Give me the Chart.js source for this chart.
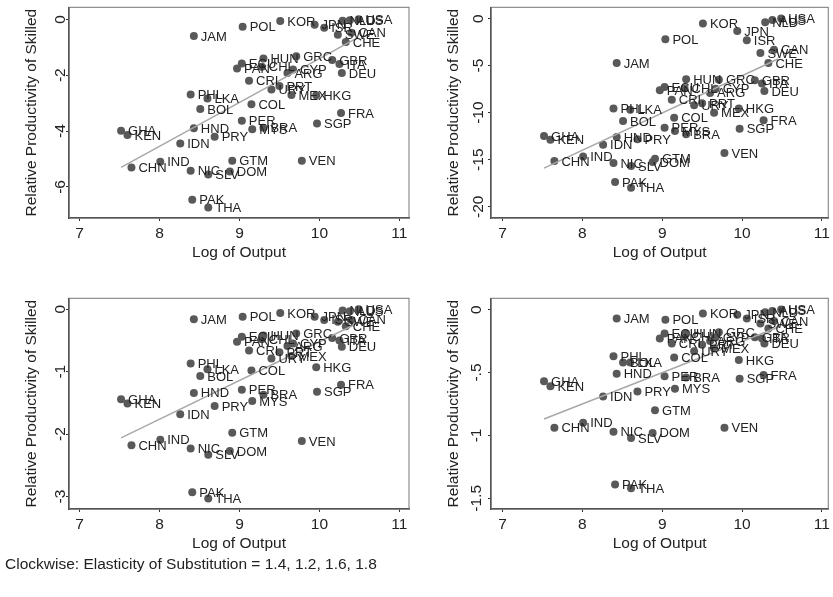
<!DOCTYPE html>
<html>
<head>
<meta charset="utf-8">
<script src="https://cdn.jsdelivr.net/npm/chart.js@4.4.0/dist/chart.umd.min.js"></script>
<style>
  body { margin: 0; background: #fff; width: 833px; height: 597px; position: relative; overflow: hidden; }
  canvas { position: absolute; }
  #note { position: absolute; left: 5px; top: 555px; font: 15.5px "Liberation Sans", Arial, sans-serif; color: #222; }
</style>
</head>
<body>
<canvas id="p14" width="416" height="270" style="left:0;top:0"></canvas>
<canvas id="p12" width="417" height="270" style="left:416px;top:0"></canvas>
<canvas id="p18" width="416" height="270" style="left:0;top:291px"></canvas>
<canvas id="p16" width="417" height="270" style="left:416px;top:291px"></canvas>
<div id="note">Clockwise: Elasticity of Substitution = 1.4, 1.2, 1.6, 1.8</div>
<script>
const countries = ["USA","AUS","NLD","JPN","ISR","CAN","SWE","CHE","KOR","POL","JAM","HUN","GRC","GBR","ITA","DEU","ECU","PAN","CHL","CYP","ARG","CRI","PRT","URY","MEX","HKG","FRA","SGP","COL","PHL","LKA","BOL","PER","MYS","BRA","HND","GHA","KEN","PRY","IDN","CHN","IND","NIC","SLV","DOM","GTM","VEN","PAK","THA"];
const logOutput = [10.49,10.38,10.29,9.94,10.06,10.4,10.23,10.33,9.51,9.04,8.43,9.3,9.71,10.16,10.25,10.28,9.03,8.97,9.28,9.67,9.6,9.12,9.5,9.4,9.65,9.96,10.27,9.97,9.15,8.39,8.6,8.51,9.03,9.16,9.3,8.43,7.52,7.6,8.69,8.26,7.65,8.01,8.39,8.61,8.88,8.91,9.78,8.41,8.61];

// relative productivity of skilled, one array per elasticity
const prod14 = [0,-0.03,-0.05,-0.19,-0.3,-0.48,-0.55,-0.81,-0.06,-0.27,-0.6,-1.4,-1.32,-1.46,-1.6,-1.92,-1.58,-1.76,-1.7,-1.8,-1.92,-2.2,-2.39,-2.51,-2.71,-2.72,-3.35,-3.73,-3.04,-2.69,-2.83,-3.21,-3.63,-3.93,-3.88,-3.9,-3.99,-4.14,-4.2,-4.44,-5.3,-5.1,-5.42,-5.55,-5.45,-5.06,-5.06,-6.46,-6.73];
const prod12 = [0,-0.15,-0.4,-1.32,-2.31,-3.3,-3.66,-4.72,-0.53,-2.2,-4.72,-6.46,-6.5,-6.56,-6.9,-7.7,-7.28,-7.63,-7.4,-7.45,-7.9,-8.62,-9.0,-9.2,-10.0,-9.57,-10.8,-11.7,-10.53,-9.57,-9.7,-10.9,-11.6,-11.95,-12.3,-12.6,-12.49,-12.87,-12.84,-13.4,-15.15,-14.65,-15.36,-15.68,-15.25,-14.9,-14.3,-17.38,-17.98];
const prod18 = [0,-0.03,-0.02,-0.12,-0.17,-0.17,-0.2,-0.27,-0.06,-0.12,-0.16,-0.42,-0.39,-0.46,-0.5,-0.6,-0.44,-0.52,-0.48,-0.55,-0.59,-0.66,-0.69,-0.79,-0.75,-0.93,-1.21,-1.32,-0.98,-0.87,-0.96,-1.07,-1.29,-1.47,-1.37,-1.34,-1.44,-1.51,-1.55,-1.68,-2.18,-2.09,-2.23,-2.33,-2.27,-1.98,-2.11,-2.93,-3.03];
const prod16 = [0,-0.01,-0.02,-0.04,-0.07,-0.09,-0.11,-0.15,-0.03,-0.08,-0.07,-0.19,-0.18,-0.22,-0.23,-0.27,-0.19,-0.23,-0.21,-0.22,-0.25,-0.27,-0.28,-0.33,-0.31,-0.4,-0.52,-0.55,-0.38,-0.37,-0.42,-0.42,-0.53,-0.63,-0.54,-0.51,-0.57,-0.61,-0.65,-0.69,-0.94,-0.9,-0.97,-1.02,-0.98,-0.8,-0.94,-1.39,-1.42];

// fitted line end points
const fitX = [7.52, 10.45];
const fit14 = [-5.3, -0.7];
const fit12 = [-15.9, -4.3];
const fit18 = [-2.06, -0.24];
const fit16 = [-0.87, -0.14];

const xTicks = [7, 8, 9, 10, 11];
const yTicks14 = [0, -2, -4, -6];
const yTicks12 = [0, -5, -10, -15, -20];
const yTicks18 = [0, -1, -2, -3];
const yTicks16 = [0, -0.5, -1, -1.5];

const FONT = "'Liberation Sans', Arial, sans-serif";

const boxPlugin = {
  id: "box",
  beforeDatasetsDraw(chart) {
    const a = chart.chartArea, ctx = chart.ctx;
    ctx.save();
    ctx.strokeStyle = "#777";
    ctx.lineWidth = 1;
    ctx.strokeRect(a.left, a.top, a.right - a.left, a.bottom - a.top);
    ctx.restore();
  }
};

const labelPlugin = {
  id: "pointLabels",
  afterDatasetsDraw(chart) {
    const ctx = chart.ctx;
    const pts = chart.getDatasetMeta(1).data;
    ctx.save();
    ctx.font = "13px " + FONT;
    ctx.fillStyle = "#222";
    ctx.textBaseline = "middle";
    ctx.textAlign = "left";
    pts.forEach((p, i) => ctx.fillText(countries[i], p.x + 7, p.y + 1));
    ctx.restore();
  }
};

function fmt(v) {
  if (v === 0) return "0";
  return String(v).replace("0.", ".");
}

function makePanel(id, yVals, fitY, yTicks, yMin, yMax, xMin, xMax, yWidth, titlePad, rightPad) {
  const ctx = document.getElementById(id).getContext("2d");
  return new Chart(ctx, {
    type: "scatter",
    data: {
      datasets: [
        {
          type: "line",
          data: fitX.map((x, i) => ({ x: x, y: fitY[i] })),
          borderColor: "#a8a8a8",
          borderWidth: 1.5,
          pointRadius: 0,
          fill: false
        },
        {
          data: logOutput.map((x, i) => ({ x: x, y: yVals[i] })),
          backgroundColor: "#595959",
          borderWidth: 0,
          pointRadius: 4
        }
      ]
    },
    options: {
      responsive: false,
      animation: false,
      events: [],
      layout: { padding: { top: 7, right: rightPad, left: 0, bottom: 0 } },
      plugins: { legend: { display: false }, tooltip: { enabled: false } },
      scales: {
        x: {
          type: "linear",
          min: xMin,
          max: xMax,
          afterBuildTicks: (s) => { s.ticks = xTicks.map((v) => ({ value: v })); },
          afterFit: (s) => { s.height = 52; },
          grid: { drawOnChartArea: false, drawTicks: true, tickLength: 3, color: "#333" },
          border: { display: true, color: "#333", width: 1.5 },
          ticks: { color: "#222", padding: 3, font: { size: 15.5, family: FONT }, maxRotation: 0 },
          title: { display: true, text: "Log of Output", color: "#222", font: { size: 15.5, family: FONT }, padding: { top: 0, bottom: 7.5 } }
        },
        y: {
          type: "linear",
          min: yMin,
          max: yMax,
          afterBuildTicks: (s) => { s.ticks = yTicks.map((v) => ({ value: v })); },
          afterFit: (s) => { s.width = yWidth; },
          grid: { drawOnChartArea: false, drawTicks: true, tickLength: 3, color: "#333" },
          border: { display: true, color: "#333", width: 1.5 },
          ticks: { color: "#222", padding: -2, crossAlign: "center", minRotation: 90, maxRotation: 90, font: { size: 15.5, family: FONT }, callback: fmt },
          title: { display: true, text: "Relative Productivity of Skilled", color: "#222", font: { size: 15.5, family: FONT }, padding: { top: titlePad, bottom: 0 } }
        }
      }
    },
    plugins: [boxPlugin, labelPlugin]
  });
}

makePanel("p14", prod14, fit14, yTicks14, -7.11, 0.43, 6.869, 11.12, 69, 22.5, 7);
makePanel("p12", prod12, fit12, yTicks12, -21.2, 1.2, 6.856, 11.08, 75, 28, 4);
makePanel("p18", prod18, fit18, yTicks18, -3.2, 0.176, 6.869, 11.12, 69, 22.5, 7);
makePanel("p16", prod16, fit16, yTicks16, -1.585, 0.09, 6.856, 11.08, 75, 28, 4);
</script>
</body>
</html>
